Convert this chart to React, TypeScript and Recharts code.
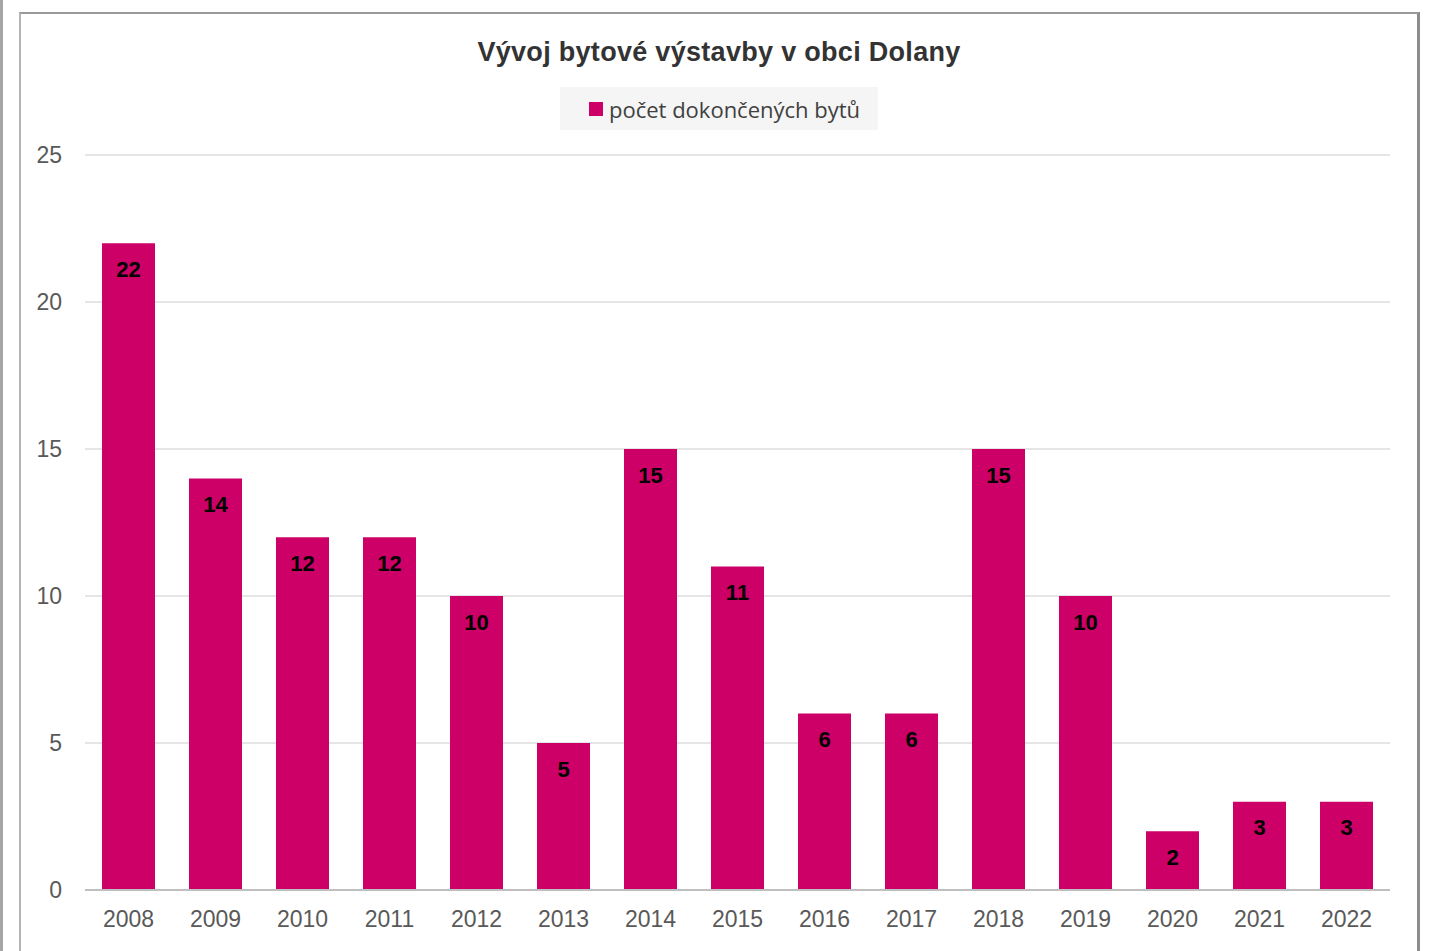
import React from 'react';
import { BarChart, Bar, XAxis, YAxis, CartesianGrid, LabelList } from 'recharts';

const years = ['2008', '2009', '2010', '2011', '2012', '2013', '2014', '2015', '2016', '2017', '2018', '2019', '2020', '2021', '2022'];
const completedFlats = [22, 14, 12, 12, 10, 5, 15, 11, 6, 6, 15, 10, 2, 3, 3];
const yTicks = [0, 5, 10, 15, 20, 25];

const seriesName = 'počet dokončených bytů';
const title = 'Vývoj bytové výstavby v obci Dolany';

const data = years.map((y, i) => ({ year: y, value: completedFlats[i] }));

const BAR_COLOR = '#cc0066';

export default function App() {
  return (
    <div style={{ position: 'absolute', left: 0, top: 0, width: 1430, height: 951, background: '#fff', overflow: 'hidden' }}>
      {/* page edge + chart frame */}
      <div style={{ position: 'absolute', left: 0, top: 0, width: 3, height: 951, background: '#a6a6a6' }} />
      <div
        style={{
          position: 'absolute', left: 19, top: 12, width: 1396, height: 980,
          borderTop: '2px solid #9a9a9a', borderLeft: '2px solid #b4b4b4', borderRight: '3px solid #8c8c8c',
        }}
      />

      <BarChart
        width={1430}
        height={951}
        data={data}
        margin={{ top: 155, right: 40, bottom: 21, left: 0 }}
        style={{ position: 'absolute', left: 0, top: 0 }}
      >
        <CartesianGrid vertical={false} stroke="#dcdcdc" strokeWidth={1.5} />
        <XAxis
          dataKey="year"
          height={40}
          tickLine={false}
          axisLine={{ stroke: '#bfbfbf', strokeWidth: 2 }}
          tickMargin={15}
          tick={{ fontSize: 23, fill: '#595959', fontFamily: 'Liberation Sans, Arial, sans-serif' }}
          interval={0}
        />
        <YAxis
          width={85}
          domain={[0, 25]}
          ticks={yTicks}
          tickLine={false}
          axisLine={false}
          tickMargin={17}
          tick={{ fontSize: 23, fill: '#595959', fontFamily: 'Liberation Sans, Arial, sans-serif' }}
        />
        <Bar dataKey="value" name={seriesName} fill={BAR_COLOR} barSize={53} isAnimationActive={false}>
          <LabelList
            dataKey="value"
            position="insideTop"
            offset={18}
            fill="#000"
            fontSize={22}
            fontWeight="bold"
            fontFamily="Liberation Sans, Arial, sans-serif"
          />
        </Bar>
      </BarChart>

      <div
        style={{
          position: 'absolute', left: 0, width: 1438, top: 33, textAlign: 'center',
          fontFamily: 'Liberation Sans, Arial, sans-serif', fontWeight: 'bold', fontSize: 27, color: '#333',
          letterSpacing: '0.3px', lineHeight: '38px',
        }}
      >
        {title}
      </div>

      <div
        style={{
          position: 'absolute', left: 560, top: 87, width: 318, height: 43, background: '#f5f5f5',
          display: 'flex', alignItems: 'center', boxSizing: 'border-box', paddingLeft: 29,
          fontFamily: 'Open Sans, sans-serif', fontSize: 22, color: '#404040',
        }}
      >
        <span style={{ display: 'inline-block', width: 14, height: 14, background: BAR_COLOR, marginRight: 6 }} />
        <span>{seriesName}</span>
      </div>
    </div>
  );
}
